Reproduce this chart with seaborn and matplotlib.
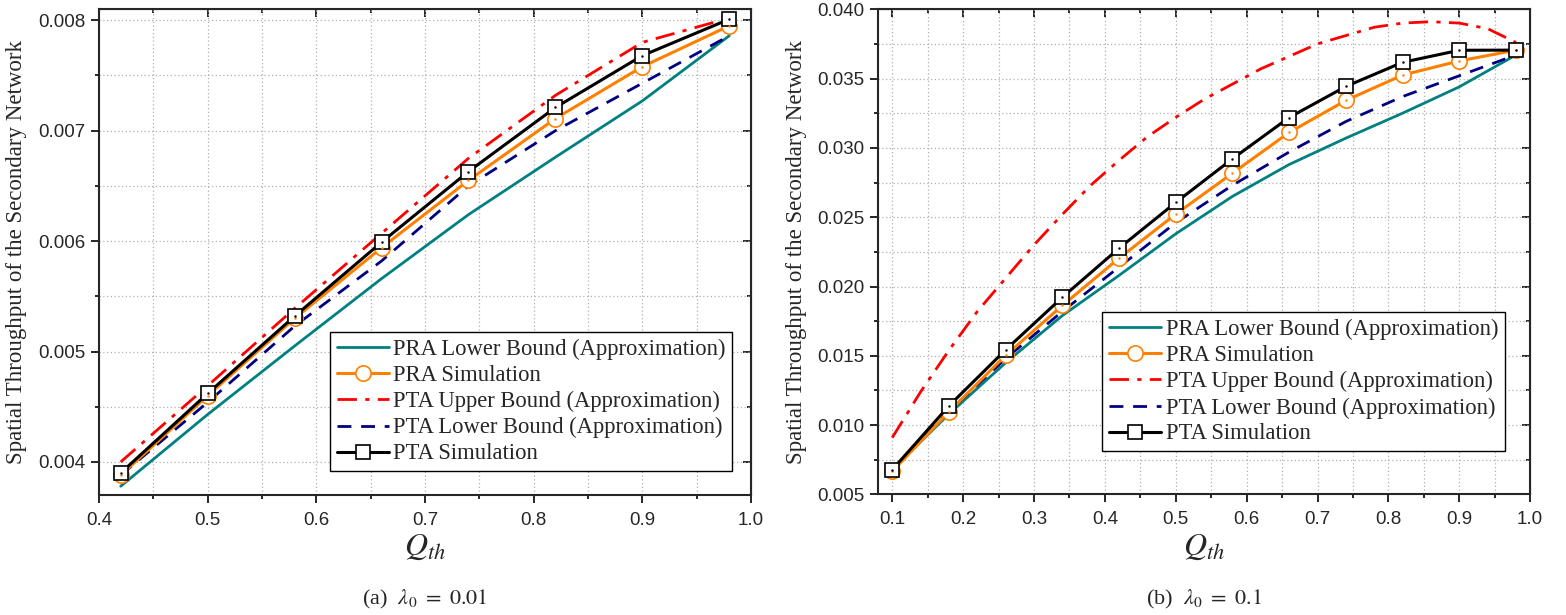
import numpy as np
import pandas as pd
import matplotlib
matplotlib.use('Agg')
import matplotlib.pyplot as plt
import seaborn as sns
from matplotlib.ticker import MultipleLocator, FormatStrFormatter

sns.set_style("ticks")
plt.rcParams['font.family'] = ['Liberation Serif', 'DejaVu Serif']
plt.rcParams['mathtext.fontset'] = 'stix'

# ---- (a) lambda0 = 0.01 ----
qa = [0.42, 0.50, 0.58, 0.66, 0.74, 0.82, 0.90, 0.98]
a_pra_lb = [0.00378, 0.00443, 0.00505, 0.00566, 0.00624, 0.00676, 0.00727, 0.00786]
a_pra_sim = [0.00388, 0.00460, 0.00530, 0.00594, 0.00655, 0.00711, 0.00758, 0.00795]
a_pta_ub = [0.00400, 0.00469, 0.00539, 0.00607, 0.00675, 0.00732, 0.00780, 0.00802]
a_pta_lb = [0.00388, 0.00454, 0.00523, 0.00582, 0.00650, 0.00700, 0.00743, 0.00786]
a_pta_sim = [0.00390, 0.00462, 0.00532, 0.00599, 0.00663, 0.00721, 0.00768, 0.00801]

# ---- (b) lambda0 = 0.1 ----
qb = [0.10, 0.18, 0.26, 0.34, 0.42, 0.50, 0.58, 0.66, 0.74, 0.82, 0.90, 0.98]
b_pra_lb = [0.0068, 0.0108, 0.0145, 0.0179, 0.0208, 0.0238, 0.0265, 0.0288, 0.0307, 0.0325, 0.0344, 0.0367]
b_pra_sim = [0.00666, 0.01097, 0.01503, 0.01863, 0.02204, 0.02522, 0.02817, 0.03111, 0.03342, 0.03525, 0.03627, 0.03705]
b_pta_lb = [0.0068, 0.0110, 0.0148, 0.0182, 0.0214, 0.0246, 0.0273, 0.0297, 0.0319, 0.0337, 0.0352, 0.0367]
b_pta_sim = [0.00678, 0.01139, 0.01543, 0.01922, 0.02276, 0.02606, 0.02921, 0.03219, 0.03443, 0.03617, 0.03704, 0.03705]
# upper bound curve read on a finer grid
qb_ub = [0.10, 0.14, 0.18, 0.22, 0.26, 0.30, 0.34, 0.38, 0.42, 0.46, 0.50, 0.54,
         0.58, 0.62, 0.66, 0.70, 0.74, 0.78, 0.82, 0.86, 0.90, 0.94, 0.98]
b_pta_ub = [0.0091, 0.0124, 0.0154, 0.0182, 0.0206, 0.0230, 0.0252, 0.0273, 0.0291, 0.0308, 0.0322, 0.0335,
            0.0346, 0.0357, 0.0366, 0.0375, 0.0381, 0.0387, 0.0390, 0.0391, 0.0390, 0.0386, 0.0376]

labels = ['PRA Lower Bound (Approximation)', 'PRA Simulation',
          'PTA Upper Bound (Approximation)', 'PTA Lower Bound (Approximation)',
          'PTA Simulation']

TEAL = '#008080'
ORANGE = '#FF8000'
RED = '#FF0000'
NAVY = '#000080'


def draw(ax, x, lb, sim, xub, ub, plb, psim):
    sns.lineplot(x=x, y=lb, ax=ax, color=TEAL, lw=2, label=labels[0], zorder=3)
    sns.lineplot(x=x, y=sim, ax=ax, color=ORANGE, lw=2.2, marker='o', ms=11,
                 mfc='white', mec=ORANGE, mew=1.2, label=labels[1], zorder=5)
    sns.lineplot(x=xub, y=ub, ax=ax, color=RED, lw=2, linestyle=(0, (7, 3, 1.5, 3)),
                 label=labels[2], zorder=4)
    sns.lineplot(x=x, y=plb, ax=ax, color=NAVY, lw=2, linestyle=(0, (5, 3.5)),
                 label=labels[3], zorder=4)
    sns.lineplot(x=x, y=psim, ax=ax, color='black', lw=2.2, marker='s', ms=10,
                 mfc='white', mec='black', mew=1.2, label=labels[4], zorder=6)
    # small centre dots of the Origin-style markers
    ax.plot(x, sim, ls='none', marker='.', ms=1.5, color=ORANGE, zorder=7)
    ax.plot(x, psim, ls='none', marker='.', ms=1.5, color='black', zorder=7)


def style(ax, xlim, ylim, xmaj, ymaj):
    ax.set_xlim(*xlim)
    ax.set_ylim(*ylim)
    ax.xaxis.set_major_locator(MultipleLocator(xmaj))
    ax.xaxis.set_minor_locator(MultipleLocator(xmaj / 2))
    ax.yaxis.set_major_locator(MultipleLocator(ymaj))
    ax.yaxis.set_minor_locator(MultipleLocator(ymaj / 2))
    ax.xaxis.set_major_formatter(FormatStrFormatter('%.1f'))
    ax.yaxis.set_major_formatter(FormatStrFormatter('%.3f'))
    ax.grid(which='both', ls=(0, (1, 2)), color='#b0b0b0', lw=0.9)
    ax.tick_params(which='major', direction='out', length=6, width=1.4, labelsize=13.5)
    ax.tick_params(axis='x', which='major', pad=6)
    ax.tick_params(which='minor', direction='out', length=3, width=1.4)
    for lab in ax.get_xticklabels() + ax.get_yticklabels():
        lab.set_fontfamily('Liberation Sans')
    for sp in ax.spines.values():
        sp.set_linewidth(1.5)
        sp.set_visible(True)
    top = ax.secondary_xaxis('top')
    top.xaxis.set_major_locator(MultipleLocator(xmaj))
    top.xaxis.set_minor_locator(MultipleLocator(xmaj / 2))
    top.tick_params(which='major', direction='in', length=6, width=1.4, labeltop=False)
    top.tick_params(which='minor', direction='in', length=3, width=1.4)
    right = ax.secondary_yaxis('right')
    right.yaxis.set_major_locator(MultipleLocator(ymaj))
    right.yaxis.set_minor_locator(MultipleLocator(ymaj / 2))
    right.tick_params(which='major', direction='in', length=6, width=1.4, labelright=False)
    right.tick_params(which='minor', direction='in', length=3, width=1.4)
    ax.set_xlabel(r'$Q_{th}$', fontsize=23, labelpad=3)
    ax.set_ylabel('Spatial Throughput of the Secondary Network', fontsize=16.5, labelpad=8)


fig = plt.figure(figsize=(15.66, 6.15), dpi=100)
ax1 = fig.add_axes([0.0632, 0.195, 0.4164, 0.790])
ax2 = fig.add_axes([0.5607, 0.196, 0.4164, 0.789])

draw(ax1, qa, a_pra_lb, a_pra_sim, qa, a_pta_ub, a_pta_lb, a_pta_sim)
draw(ax2, qb, b_pra_lb, b_pra_sim, qb_ub, b_pta_ub, b_pta_lb, b_pta_sim)

style(ax1, (0.4, 1.0), (0.0037, 0.0081), 0.1, 0.001)
style(ax2, (0.08, 1.0), (0.005, 0.040), 0.1, 0.005)

for ax, anchor in [(ax1, (0.354, 0.049)), (ax2, (0.344, 0.089))]:
    leg = ax.legend(loc='lower left', bbox_to_anchor=anchor, fontsize=16.3,
                    frameon=True, fancybox=False, borderaxespad=0, borderpad=0.3,
                    handlelength=2.3, handletextpad=0.2, labelspacing=0.22)
    leg.get_frame().set_edgecolor('black')
    leg.get_frame().set_linewidth(1.0)
    leg.get_frame().set_alpha(1)

fig.text(0.271, 0.025, r'(a)  $\lambda_0\ =\ 0.01$', ha='center', va='center', fontsize=16)
fig.text(0.769, 0.025, r'(b)  $\lambda_0\ =\ 0.1$', ha='center', va='center', fontsize=16)

fig.savefig('out.png', dpi=100)
plt.close(fig)
